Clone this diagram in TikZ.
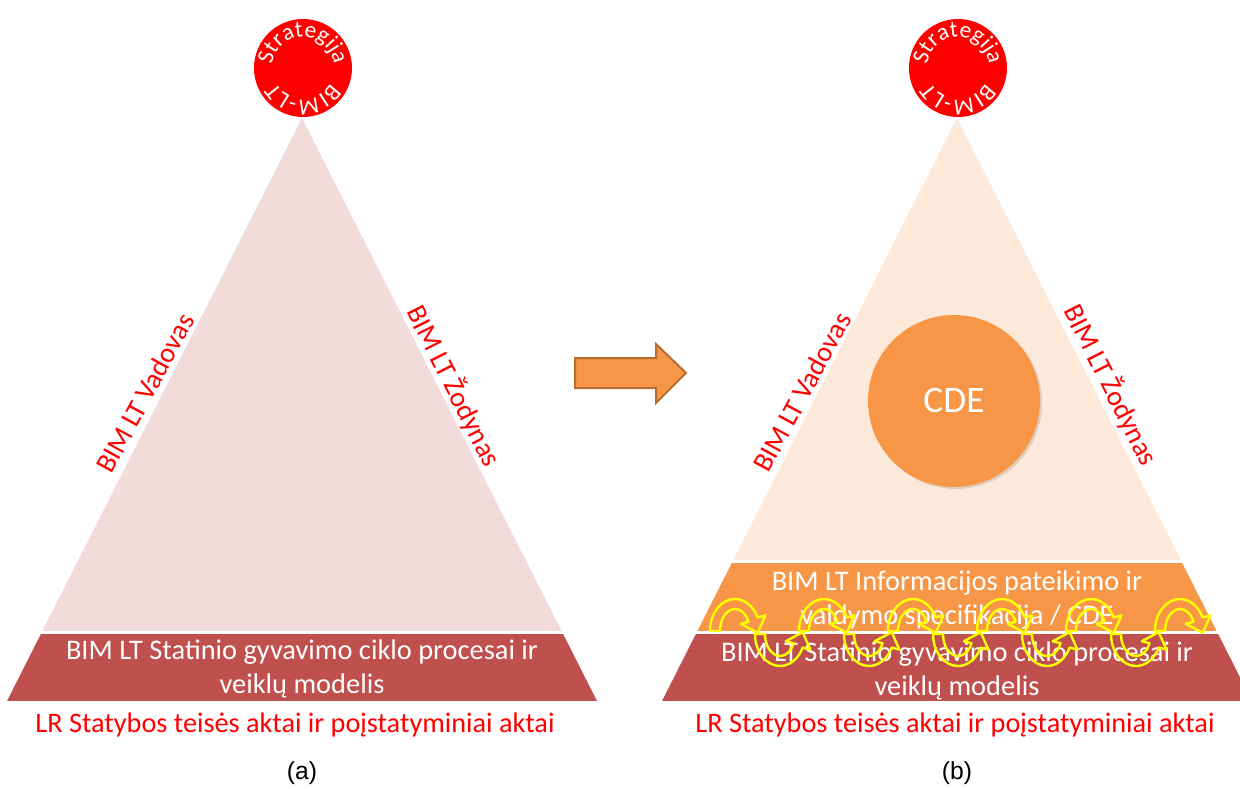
\documentclass[tikz,border=0pt]{standalone}
\usepackage{fontspec}
\setmainfont{Carlito}
\newfontfamily\arialfont{Liberation Sans}
\usetikzlibrary{decorations.text,shadows}
\definecolor{pinkbg}{HTML}{F2DCDB}
\definecolor{peachbg}{HTML}{FDE9D9}
\definecolor{orangeband}{HTML}{F79646}
\definecolor{redband}{HTML}{C0504D}
\definecolor{strongred}{HTML}{FF0000}
\definecolor{arrowedge}{HTML}{B66D31}
\definecolor{yel}{HTML}{FFFF00}
\tikzset{
  bandtext/.style={text=white, align=center, font=\fontsize{21.3}{25.5}\selectfont, inner sep=0pt},
  sidetext/.style={text=strongred, font=\fontsize{21}{25.5}\selectfont, inner sep=0pt},
  lawtext/.style={text=strongred, font=\fontsize{21.2}{25.5}\selectfont, inner sep=0pt},
  captext/.style={font=\arialfont\fontsize{18.5}{18.5}\selectfont, inner sep=0pt},
  topcircle/.style={circle, fill=strongred, minimum size=73.5pt, inner sep=0pt},
  yarrow/.style={draw=yel, line width=1.8pt, line join=round},
  uarc/.pic={
    \draw[yarrow] (-25,0) arc[start angle=180,end angle=335,x radius=25,y radius=32]
      -- (30.4,-15.6) -- (22.7,1.8) -- (5.8,-7.2) -- (13.6,-9.3)
      arc[start angle=335,end angle=180,x radius=15,y radius=22] -- cycle;
  },
  circtext/.style={decoration={text along path, text align=center, text color=white,
      text={|\fontsize{17.5}{17.5}\selectfont|#1}}, decorate}
}
\begin{document}
\begin{tikzpicture}[x=0.75pt,y=-0.75pt]
\clip (0,0) rectangle (1240,789);
\fill[white] (0,0) rectangle (1240,789);

% ---------- left pyramid ----------
\begin{scope}
  \clip (302,118) -- (7,701) -- (597,701) -- cycle;
  \fill[pinkbg] (0,0) rectangle (620,630.5);
  \fill[redband] (0,633.5) rectangle (620,701);
\end{scope}
\node[topcircle] (cl) at (303,68) {};
\path[circtext=Strategija] ([shift={(-179:31)}]cl.center) arc[start angle=-179,end angle=-1,radius=31];
\path[circtext=BIM-LT] ([shift={(8:31)}]cl.center) arc[start angle=8,end angle=172,radius=31];
\node[sidetext, rotate=61.5] (lv) at (145,393) {BIM LT Vadovas};
\node[sidetext, rotate=-63.2] (lz) at (454,386) {BIM LT Žodynas};
\node[bandtext] (lr) at (302,669) {BIM LT Statinio gyvavimo ciklo procesai ir\\veiklų modelis};
\node[lawtext] (ll) at (295,725) {LR Statybos teisės aktai ir poįstatyminiai aktai};
\node[captext] (capa) at (302,773) {(a)};

% ---------- arrow ----------
\draw[fill=orangeband, draw=arrowedge, line width=1.5pt, line join=miter]
  (575,358) -- (656,358) -- (656,344) -- (686,373) -- (656,403) -- (656,388) -- (575,388) -- cycle;

% ---------- right pyramid ----------
\begin{scope}
  \clip (957,118) -- (662,701) -- (1252,701) -- cycle;
  \fill[peachbg] (620,0) rectangle (1300,559.5);
  \fill[orangeband] (620,562.5) rectangle (1300,630.5);
  \fill[redband] (620,633.5) rectangle (1300,701);
\end{scope}
\node[topcircle] (cr) at (958,68) {};
\path[circtext=Strategija] ([shift={(-179:31)}]cr.center) arc[start angle=-179,end angle=-1,radius=31];
\path[circtext=BIM-LT] ([shift={(8:31)}]cr.center) arc[start angle=8,end angle=172,radius=31];
\node[sidetext, rotate=61.5] (rv) at (802,392) {BIM LT Vadovas};
\node[sidetext, rotate=-63.2] (rz) at (1111,385) {BIM LT Žodynas};
\node[circle, fill=orangeband, minimum size=129pt, inner sep=0pt,
      drop shadow={shadow xshift=1.5pt, shadow yshift=-1.5pt, opacity=0.25}] (cde) at (954,401) {};
\node[text=white, font=\fontsize{28}{28}\selectfont, inner sep=0pt] (cdet) at (cde.center) {CDE};
\node[bandtext] (ro) at (957,600) {BIM LT Informacijos pateikimo ir\\valdymo specifikacija / CDE};
\node[bandtext] (rr) at (957,671) {BIM LT Statinio gyvavimo ciklo procesai ir\\veiklų modelis};
\node[lawtext] (rl) at (955,725) {LR Statybos teisės aktai ir poįstatyminiai aktai};
\node[captext] (capb) at (957,773) {(b)};

% ---------- yellow curved arrows ----------
\foreach \k in {0,...,5} {
  \pic at ({735+89*\k},631) {uarc};
}
\foreach \k in {0,...,4} {
  \pic[yscale=-1] at ({780+89*\k},634) {uarc};
}
\end{tikzpicture}
\end{document}
